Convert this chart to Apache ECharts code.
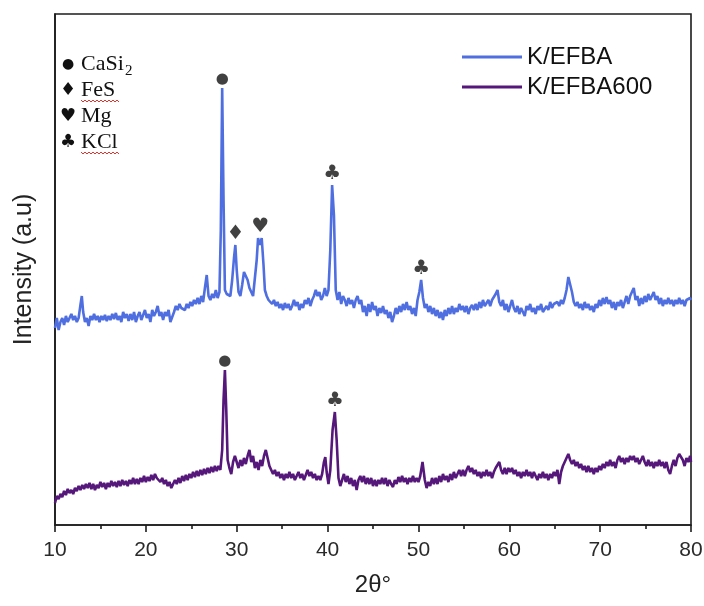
<!DOCTYPE html>
<html>
<head>
<meta charset="utf-8">
<script src="https://cdn.jsdelivr.net/npm/echarts@6/dist/echarts.min.js"></script>
<style>
  html, body { margin: 0; padding: 0; background: #fff; }
  #chart { width: 704px; height: 606px; }
</style>
</head>
<body>
<div id="chart"></div>
<script>
// XRD patterns: [2θ (deg), intensity (a.u.)]
const kEfba = [
  [10.0,197],[10.2,207],[10.4,195],[10.6,203],[10.8,207],[11.0,200],[11.2,209],[11.4,203],[11.6,207],[11.8,211],
  [12.0,205],[12.2,209],[12.4,203],[12.6,207],[12.8,220],[12.95,229],[13.1,213],[13.3,203],[13.5,207],[13.7,199],
  [13.9,209],[14.1,205],[14.3,211],[14.5,205],[14.7,209],[14.9,203],[15.1,209],[15.3,205],[15.5,210],[15.7,204],
  [15.9,209],[16.1,205],[16.3,211],[16.5,206],[16.7,212],[16.9,205],[17.1,209],[17.3,203],[17.5,213],[17.7,207],
  [17.9,211],[18.1,204],[18.3,211],[18.5,205],[18.7,213],[18.9,203],[19.1,209],[19.3,213],[19.5,205],[19.7,207],
  [19.9,215],[20.1,207],[20.3,211],[20.5,203],[20.7,215],[20.9,209],[21.1,213],[21.3,219],[21.5,209],[21.7,213],
  [21.9,205],[22.1,213],[22.3,209],[22.5,215],[22.7,203],[22.9,201],[23.1,213],[23.3,219],[23.5,215],[23.7,221],
  [23.9,217],[24.1,219],[24.3,215],[24.5,221],[24.7,217],[24.9,223],[25.1,219],[25.3,225],[25.5,221],[25.7,227],
  [25.9,221],[26.1,229],[26.3,223],[26.5,237],[26.7,250],[26.9,229],[27.1,225],[27.3,231],[27.5,227],[27.7,235],
  [27.9,227],[28.1,233],[28.25,295],[28.4,437],[28.55,325],[28.7,235],[28.9,231],[29.1,233],[29.3,229],[29.5,245],
  [29.7,267],[29.85,280],[30.0,255],[30.2,233],[30.4,229],[30.6,240],[30.8,253],[31.0,255],[31.2,245],[31.4,237],
  [31.6,235],[31.8,229],[32.0,227],[32.2,265],[32.35,287],[32.55,280],[32.75,287],[32.95,260],[33.1,235],[33.3,229],
  [33.5,225],[33.7,227],[33.9,221],[34.1,225],[34.3,219],[34.5,223],[34.7,217],[34.9,221],[35.1,215],[35.3,222],
  [35.5,217],[35.7,221],[35.9,215],[36.1,219],[36.3,225],[36.5,219],[36.7,223],[36.9,215],[37.1,221],[37.3,217],
  [37.5,225],[37.7,221],[37.9,227],[38.1,219],[38.3,225],[38.5,229],[38.7,235],[38.9,229],[39.1,233],[39.3,225],
  [39.5,229],[39.7,237],[39.9,229],[40.1,235],[40.3,275],[40.5,340],[40.7,310],[40.9,235],[41.1,225],[41.3,233],
  [41.5,221],[41.7,229],[41.9,225],[42.1,219],[42.3,227],[42.5,221],[42.7,225],[42.9,217],[43.1,225],[43.3,229],
  [43.5,221],[43.7,225],[43.9,213],[44.1,219],[44.3,209],[44.5,221],[44.7,213],[44.9,223],[45.1,215],[45.3,219],
  [45.5,209],[45.7,217],[45.9,212],[46.1,219],[46.3,211],[46.5,215],[46.7,207],[46.9,213],[47.1,203],[47.3,209],
  [47.5,217],[47.7,211],[47.9,219],[48.1,213],[48.3,221],[48.5,215],[48.7,223],[48.9,215],[49.1,219],[49.3,211],
  [49.5,217],[49.7,209],[49.9,225],[50.1,233],[50.3,245],[50.5,227],[50.7,217],[50.9,221],[51.1,213],[51.3,219],
  [51.5,211],[51.7,217],[51.9,209],[52.1,215],[52.3,207],[52.5,213],[52.7,205],[52.9,215],[53.1,209],[53.3,217],
  [53.5,211],[53.7,219],[53.9,211],[54.1,217],[54.3,213],[54.5,221],[54.7,215],[54.9,219],[55.1,213],[55.3,219],
  [55.5,211],[55.7,217],[55.9,220],[56.1,215],[56.3,221],[56.5,215],[56.7,223],[56.9,217],[57.1,225],[57.3,219],
  [57.5,222],[57.7,225],[57.9,219],[58.1,225],[58.3,227],[58.5,231],[58.7,235],[58.9,223],[59.1,219],[59.3,225],
  [59.5,215],[59.7,221],[59.9,213],[60.1,219],[60.3,225],[60.5,217],[60.7,213],[60.9,219],[61.1,211],[61.3,217],
  [61.5,213],[61.7,209],[61.9,219],[62.1,215],[62.3,221],[62.5,213],[62.7,217],[62.9,211],[63.1,219],[63.3,215],
  [63.5,221],[63.7,213],[63.9,211],[64.1,219],[64.3,215],[64.5,223],[64.7,217],[64.9,221],[65.1,219],[65.3,223],
  [65.5,219],[65.7,225],[65.9,221],[66.1,227],[66.3,235],[66.5,248],[66.7,250],[66.9,233],[67.1,223],[67.3,219],
  [67.5,223],[67.7,217],[67.9,221],[68.1,215],[68.3,223],[68.5,217],[68.7,221],[68.9,215],[69.1,219],[69.3,213],
  [69.5,221],[69.7,217],[69.9,225],[70.1,219],[70.3,227],[70.5,221],[70.7,228],[70.9,221],[71.1,225],[71.3,217],
  [71.5,223],[71.7,215],[71.9,223],[72.1,219],[72.3,225],[72.5,217],[72.7,223],[72.9,229],[73.1,221],[73.3,229],
  [73.5,233],[73.7,237],[73.9,225],[74.1,229],[74.3,219],[74.5,227],[74.7,221],[74.9,229],[75.1,223],[75.3,231],
  [75.5,225],[75.7,229],[75.9,233],[76.1,225],[76.3,229],[76.5,221],[76.7,227],[76.9,219],[77.1,225],[77.3,221],
  [77.5,227],[77.7,221],[77.9,225],[78.1,219],[78.3,225],[78.5,221],[78.7,227],[78.9,221],[79.1,225],[79.3,219],
  [79.5,225],[79.7,223],[79.9,227],[80.0,225]
];

const kEfba600 = [
  [10.0,22],[10.2,29],[10.4,26],[10.6,31],[10.8,28],[11.0,34],[11.2,30],[11.4,36],[11.6,32],[11.8,35],
  [12.0,31],[12.2,37],[12.4,34],[12.6,39],[12.8,35],[13.0,40],[13.2,36],[13.4,41],[13.6,37],[13.8,42],
  [14.0,36],[14.2,41],[14.4,35],[14.6,40],[14.8,37],[15.0,43],[15.2,38],[15.4,42],[15.6,36],[15.8,42],
  [16.0,38],[16.2,44],[16.4,39],[16.6,43],[16.8,38],[17.0,44],[17.2,39],[17.4,45],[17.6,40],[17.8,44],
  [18.0,39],[18.2,45],[18.4,41],[18.6,47],[18.8,41],[19.0,46],[19.2,41],[19.4,47],[19.6,43],[19.8,49],
  [20.0,43],[20.2,48],[20.4,44],[20.6,50],[20.8,45],[21.0,51],[21.2,47],[21.4,49],[21.6,43],[21.8,47],
  [22.0,41],[22.2,45],[22.4,39],[22.6,43],[22.8,37],[23.0,41],[23.2,45],[23.4,41],[23.6,47],[23.8,42],
  [24.0,49],[24.2,44],[24.4,50],[24.6,45],[24.8,51],[25.0,47],[25.2,53],[25.4,48],[25.6,54],[25.8,49],
  [26.0,55],[26.2,50],[26.4,56],[26.6,51],[26.8,57],[27.0,52],[27.2,58],[27.4,53],[27.6,59],[27.8,54],
  [28.0,59],[28.2,55],[28.4,75],[28.55,125],[28.7,155],[28.85,115],[29.0,65],[29.2,57],[29.4,51],[29.6,63],
  [29.8,69],[30.0,63],[30.2,57],[30.4,65],[30.6,59],[30.8,67],[31.0,61],[31.2,69],[31.4,75],[31.6,63],
  [31.8,69],[32.0,57],[32.2,63],[32.4,55],[32.6,65],[32.8,59],[33.0,69],[33.2,75],[33.4,67],[33.6,59],
  [33.8,55],[34.0,51],[34.2,55],[34.4,49],[34.6,53],[34.8,47],[35.0,51],[35.2,45],[35.4,51],[35.6,47],
  [35.8,53],[36.0,47],[36.2,51],[36.4,45],[36.6,49],[36.8,53],[37.0,47],[37.2,51],[37.4,45],[37.6,50],
  [37.8,55],[38.0,49],[38.2,53],[38.4,47],[38.6,51],[38.8,45],[39.0,49],[39.2,45],[39.4,51],[39.6,63],
  [39.75,68],[39.9,53],[40.1,41],[40.3,55],[40.55,95],[40.8,113],[41.0,85],[41.2,47],[41.4,39],[41.6,45],
  [41.8,51],[42.0,43],[42.2,49],[42.4,41],[42.6,47],[42.8,39],[43.0,45],[43.2,35],[43.4,45],[43.6,49],
  [43.8,43],[44.0,49],[44.2,41],[44.4,47],[44.6,41],[44.8,47],[45.0,39],[45.2,45],[45.4,39],[45.6,45],
  [45.8,41],[46.0,47],[46.2,41],[46.4,47],[46.6,39],[46.8,45],[47.0,41],[47.2,38],[47.4,45],[47.6,41],
  [47.8,48],[48.0,43],[48.2,49],[48.4,43],[48.6,47],[48.8,41],[49.0,47],[49.2,43],[49.4,49],[49.6,43],
  [49.8,47],[50.0,43],[50.2,49],[50.45,63],[50.7,45],[50.9,37],[51.1,43],[51.3,39],[51.5,47],[51.7,41],
  [51.9,47],[52.1,41],[52.3,49],[52.5,43],[52.7,51],[52.9,45],[53.1,49],[53.3,43],[53.5,51],[53.7,45],
  [53.9,53],[54.1,47],[54.3,51],[54.5,55],[54.7,49],[54.9,55],[55.1,49],[55.3,55],[55.5,59],[55.7,53],
  [55.9,57],[56.1,51],[56.3,55],[56.5,49],[56.7,53],[56.9,47],[57.1,53],[57.3,49],[57.5,55],[57.7,49],
  [57.9,53],[58.1,47],[58.3,53],[58.5,57],[58.7,59],[58.9,63],[59.1,55],[59.3,51],[59.5,57],[59.7,51],
  [59.9,57],[60.1,53],[60.3,57],[60.5,51],[60.7,55],[60.9,49],[61.1,53],[61.3,47],[61.5,53],[61.7,49],
  [61.9,55],[62.1,49],[62.3,53],[62.5,47],[62.7,53],[62.9,49],[63.1,45],[63.3,51],[63.5,47],[63.7,53],
  [63.9,47],[64.1,51],[64.3,45],[64.5,51],[64.7,47],[64.9,53],[65.1,49],[65.3,55],[65.5,41],[65.7,53],
  [65.9,59],[66.1,63],[66.3,67],[66.5,71],[66.7,65],[66.9,61],[67.1,65],[67.3,59],[67.5,63],[67.7,57],
  [67.9,61],[68.1,55],[68.3,59],[68.5,53],[68.7,59],[68.9,53],[69.1,57],[69.3,51],[69.5,57],[69.7,53],
  [69.9,59],[70.1,55],[70.3,61],[70.5,57],[70.7,63],[70.9,59],[71.1,65],[71.3,59],[71.5,63],[71.7,57],
  [71.9,65],[72.1,69],[72.3,63],[72.5,67],[72.7,61],[72.9,67],[73.1,63],[73.3,69],[73.5,65],[73.7,69],
  [73.9,63],[74.1,67],[74.3,61],[74.5,65],[74.7,69],[74.9,63],[75.1,59],[75.3,65],[75.5,59],[75.7,63],
  [75.9,57],[76.1,63],[76.3,59],[76.5,65],[76.7,59],[76.9,63],[77.1,57],[77.3,63],[77.5,55],[77.7,51],
  [77.9,59],[78.1,65],[78.3,59],[78.5,67],[78.7,71],[78.9,72],[79.1,65],[79.3,59],[79.5,67],[79.7,63],
  [79.9,69],[80.0,63]
];

// Phase markers above identified reflections: [symbol, 2θ, peak intensity]
const efbaPeaks = [['●', 28.4, 437], ['♦', 29.85, 280], ['♥', 32.6, 287], ['♣', 40.5, 340], ['♣', 50.3, 245]];
const efba600Peaks = [['●', 28.7, 155], ['♣', 40.8, 113]];

// Phase key: [symbol, name, subscript]
const phaseKey = [['●', 'CaSi', '2'], ['♦', 'FeS', ''], ['♥', 'Mg', ''], ['♣', 'KCl', '']];
const flaggedNames = ['FeS', 'KCl'];

const seriesNames = ['K/EFBA', 'K/EFBA600'];
const seriesColors = ['#4f6ee0', '#55177a'];
const xTicks = { min: 10, max: 80, step: 10 };

const chart = echarts.init(document.getElementById('chart'), null, { renderer: 'canvas' });

const axisColor = '#1c1c1c';
// the dot glyph is drawn larger in the font than the card suits
const glyphSize = g => (g === '●' ? 15 : 20);

function peakSeries(name, peaks) {
  return {
    name: name,
    type: 'scatter',
    data: peaks.map(p => ({
      value: [p[1], p[2]],
      glyph: p[0],
      label: { fontSize: glyphSize(p[0]) }
    })),
    symbolSize: 0,
    silent: true,
    z: 5,
    label: {
      show: true,
      position: 'top',
      distance: 1,
      formatter: prm => prm.data.glyph,
      fontFamily: 'DejaVu Sans',
      color: '#111'
    }
  };
}

// Key for the phase symbols, upper-left corner of the plot
const keyGraphics = [];
phaseKey.forEach((row, i) => {
  const cy = 64 + i * 26;
  keyGraphics.push({
    type: 'text', x: 68, y: cy,
    style: { text: row[0], fontSize: row[0] === '●' ? 14 : 18, fontFamily: 'DejaVu Sans', fill: '#111', align: 'center', verticalAlign: 'middle' }
  });
  keyGraphics.push({
    type: 'text', x: 81, y: cy,
    style: { text: row[1], fontSize: 22, fontFamily: 'Liberation Serif', fill: '#111', align: 'left', verticalAlign: 'middle' }
  });
  if (row[2]) {
    keyGraphics.push({
      type: 'text', x: 125, y: cy + 7,
      style: { text: row[2], fontSize: 15, fontFamily: 'Liberation Serif', fill: '#111', align: 'left', verticalAlign: 'middle' }
    });
  }
  if (flaggedNames.indexOf(row[1]) >= 0) {
    // red wavy underline
    const pts = [];
    for (let k = 0; k <= 19; k++) {
      pts.push([81 + k * 2, cy + 10 + (k % 2 === 0 ? 0 : 2)]);
    }
    keyGraphics.push({
      type: 'polyline',
      shape: { points: pts },
      style: { stroke: '#e0352f', lineWidth: 1, fill: null }
    });
  }
});

const option = {
  animation: false,
  backgroundColor: '#fff',
  grid: {
    left: 55, right: 13, top: 14, bottom: 81,
    show: true, borderColor: axisColor, borderWidth: 1.6,
    containLabel: false, outerBoundsMode: 'none'
  },
  legend: {
    data: seriesNames,
    orient: 'vertical',
    left: 457, top: 40,
    itemWidth: 60, itemHeight: 3, itemGap: 6,
    icon: 'rect',
    textStyle: { fontSize: 24, fontFamily: 'Liberation Sans', color: '#111' }
  },
  xAxis: {
    type: 'value',
    min: xTicks.min, max: xTicks.max, interval: xTicks.step,
    axisLine: { show: true, onZero: false, lineStyle: { color: axisColor, width: 1.6 } },
    axisTick: { show: true, length: 7, inside: false, lineStyle: { color: axisColor, width: 1.6 } },
    minorTick: { show: true, splitNumber: 2, length: 4, lineStyle: { color: axisColor, width: 1.6 } },
    splitLine: { show: false },
    axisLabel: { fontSize: 21, fontFamily: 'Liberation Sans', color: '#2a2a2a', margin: 15 },
    name: '2θ°',
    nameLocation: 'middle',
    nameGap: 48,
    nameTextStyle: { fontSize: 24, fontFamily: 'Liberation Sans', color: '#222' }
  },
  yAxis: {
    type: 'value',
    min: 0, max: 511,
    axisLine: { show: true, lineStyle: { color: axisColor, width: 1.6 } },
    axisTick: { show: false },
    axisLabel: { show: false },
    splitLine: { show: false },
    name: 'Intensity (a.u)',
    nameLocation: 'middle',
    nameRotate: 90,
    nameGap: 18,
    nameTextStyle: { fontSize: 25, fontFamily: 'Liberation Sans', color: '#222' }
  },
  series: [
    {
      name: seriesNames[0], type: 'line', data: kEfba,
      showSymbol: false, symbol: 'none',
      color: seriesColors[0],
      lineStyle: { color: seriesColors[0], width: 2.6 },
      z: 3
    },
    {
      name: seriesNames[1], type: 'line', data: kEfba600,
      showSymbol: false, symbol: 'none',
      color: seriesColors[1],
      lineStyle: { color: seriesColors[1], width: 2.6 },
      z: 3
    },
    peakSeries('efbaPeaks', efbaPeaks),
    peakSeries('efba600Peaks', efba600Peaks)
  ],
  graphic: keyGraphics
};

chart.setOption(option);
</script>
</body>
</html>
